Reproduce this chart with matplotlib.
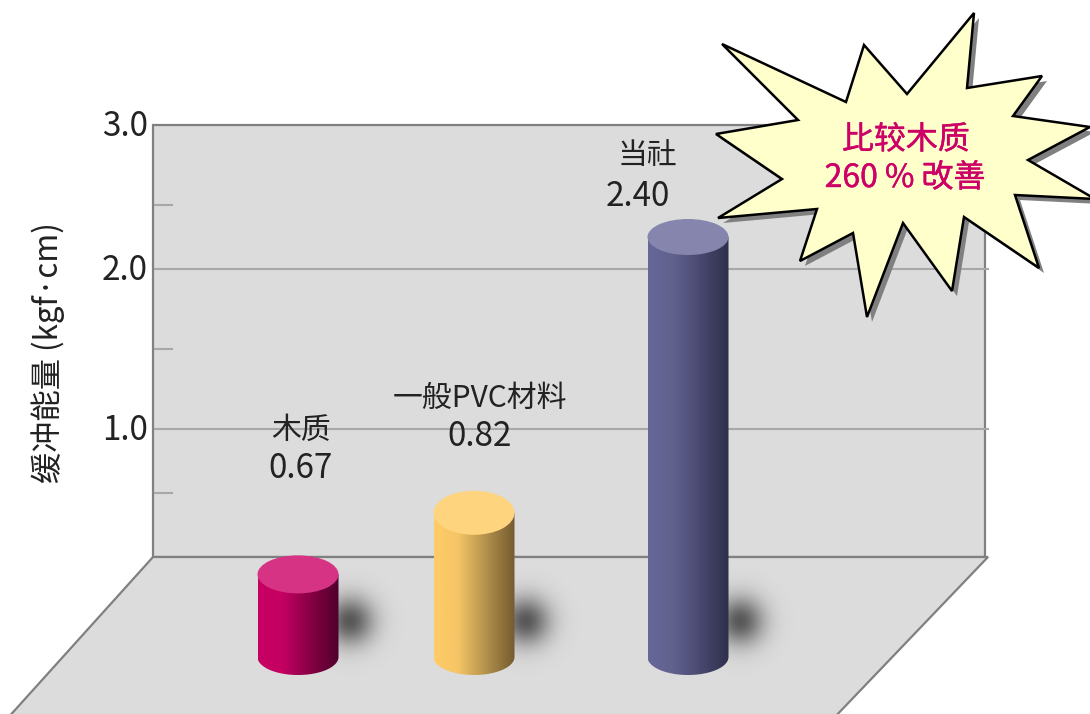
import numpy as np
import matplotlib
matplotlib.use("Agg")
import matplotlib.pyplot as plt
import matplotlib.patheffects as pe
from matplotlib.patches import Polygon, Ellipse
from matplotlib.colors import LinearSegmentedColormap

plt.rcParams["font.family"] = ["Noto Sans CJK KR", "DejaVu Sans"]

# data
categories = ["木质", "一般PVC材料", "当社"]
values = [0.67, 0.82, 2.40]
# the cylinders are not to scale in the picture, so this is their drawn height
drawn_heights = [0.59, 1.03, 3.00]
major_ticks = ["1.0", "2.0", "3.0"]

# layout, in pixels of the 1090x714 picture
W, H = 1090, 714
UNIT = 140
BASE_Y = 657
HALF_W = 40.5
RY = [19, 22, 18]
CENTERS = [298, 474, 688]
LABEL_X = [301, 480, 647]
LABEL_Y = [429, 397, 155]
VALUE_X = [301, 480, 638]
VALUE_Y = [467, 435, 195]
MAJOR_Y = [429, 269, 125]
MINOR_Y = [493, 349, 205]

SIDES = [["#C80064", "#C40062", "#7E0040", "#50002C"],
         ["#FFCC66", "#F5C566", "#A88848", "#755C2E"],
         ["#666699", "#62628F", "#45456B", "#2F2F4C"]]
TOPS = ["#D63384", "#FFD47F", "#8585AD"]
TEXT = "#222222"
GRID = "#A8A8A8"
EDGE = "#808080"

fig = plt.figure(figsize=(W / 100, H / 100), dpi=100)
ax = fig.add_axes([0, 0, 1, 1])

# wall and floor
ax.add_patch(Polygon([(153, 125), (985, 125), (985, 557), (153, 557)],
                     fc="#DCDCDC", ec=EDGE, lw=1.6, zorder=1))
ax.add_patch(Polygon([(153, 557), (988, 557), (832, 720), (6, 720)],
                     fc="#DCDCDC", ec=EDGE, lw=1.6, zorder=1))

for y in MAJOR_Y[:2]:
    ax.plot([155, 988], [y, y], color=GRID, lw=1.5, zorder=2)
for y in MINOR_Y:
    ax.plot([155, 172], [y, y], color=GRID, lw=1.5, zorder=2)

for y, lab in zip(MAJOR_Y, major_ticks):
    ax.text(148, y + 1, lab, ha="right", va="center", fontsize=24, color=TEXT,
            fontweight="light", zorder=6)

ax.text(48, 353, "缓冲能量 (kgf·cm)", rotation=90, ha="center", va="center",
        fontsize=22.5, color=TEXT, fontweight="light", zorder=6)

# soft shadows behind the cylinders
gx, gy = np.meshgrid(np.linspace(-55, 55, 111), np.linspace(-55, 55, 111))
blob = np.exp(-(gx ** 2 + gy ** 2) / (2 * 17.0 ** 2))
shadow_rgba = np.zeros(blob.shape + (4,))
shadow_rgba[..., :3] = 0.3
shadow_rgba[..., 3] = blob * 0.92

for i, cx in enumerate(CENTERS):
    sx = cx + 52
    ax.imshow(shadow_rgba, extent=(sx - 55, sx + 55, 621 + 55, 621 - 55),
              aspect="auto", zorder=3, interpolation="bilinear")

# cylinders
t = np.linspace(0, np.pi, 60)
grad = np.linspace(0, 1, 256).reshape(1, -1)
for i, cx in enumerate(CENTERS):
    top_y = BASE_Y - drawn_heights[i] * UNIT
    ry = RY[i]
    body = [(cx - HALF_W, top_y)] + [(cx + HALF_W, top_y)]
    body += list(zip(cx + HALF_W * np.cos(t), BASE_Y + 18 * np.sin(t)))
    clip = Polygon(body, transform=ax.transData, fc="none", ec="none")
    ax.add_patch(clip)
    cmap = LinearSegmentedColormap.from_list("side", list(zip([0, 0.3, 0.7, 1], SIDES[i])))
    im = ax.imshow(grad, cmap=cmap, extent=(cx - HALF_W, cx + HALF_W, BASE_Y + 19, top_y),
                   aspect="auto", zorder=4)
    im.set_clip_path(clip)
    ax.add_patch(Ellipse((cx, top_y), HALF_W * 2, ry * 2, fc=TOPS[i], ec="none", zorder=5))

    ax.text(LABEL_X[i], LABEL_Y[i] + 1, categories[i], ha="center", va="center",
            fontsize=21.5, color=TEXT, fontweight="light", zorder=6)
    ax.text(VALUE_X[i], VALUE_Y[i] + 1, f"{values[i]:.2f}", ha="center", va="center",
            fontsize=24, color=TEXT, fontweight="light", zorder=6)

# callout star
star = np.array([(722, 44), (846, 102), (864, 45), (907, 94), (974, 13), (967, 88),
                 (1042, 76), (1013, 116), (1090, 127), (1028, 160), (1095, 199), (1015, 195),
                 (1039, 268), (964, 217), (952, 291), (903, 223), (867, 317), (853, 233),
                 (800, 261), (817, 209), (718, 218), (782, 179), (716, 134), (798, 120)])
ax.add_patch(Polygon(star + 5, fc="#808080", ec="none", zorder=7))
ax.add_patch(Polygon(star, fc="#FFFFCC", ec="black", lw=1.8, joinstyle="miter", zorder=8))
thick = [pe.withStroke(linewidth=0.3, foreground="#CC0066")]
ax.text(906, 140, "比较木质", ha="center", va="center", fontsize=23,
        color="#CC0066", path_effects=thick, zorder=9)
ax.text(905, 178, "260 % 改善", ha="center", va="center", fontsize=23,
        color="#CC0066", path_effects=thick, zorder=9)

ax.set_xlim(0, W)
ax.set_ylim(H, 0)
ax.axis("off")
fig.savefig("out.png", dpi=100)
